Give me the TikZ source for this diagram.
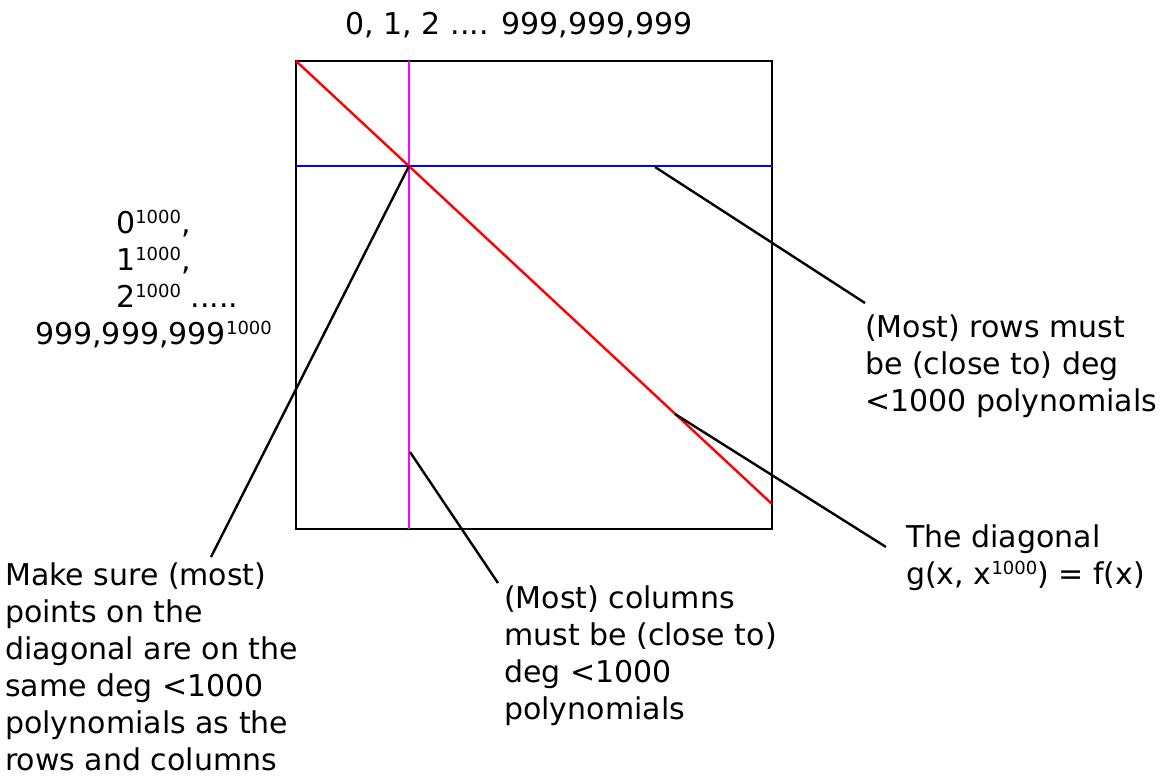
\documentclass[tikz,border=0pt]{standalone}
\usepackage{fontspec}
\setmainfont{DejaVu Sans}
\usetikzlibrary{positioning}
\definecolor{DiagRed}{HTML}{FF0000}
\definecolor{ColMagenta}{HTML}{FF00FF}
\definecolor{RowBlue}{HTML}{0000FF}
\newcommand{\pw}[1]{\raisebox{10pt}{\fontsize{18}{18}\selectfont #1}}

\begin{document}
\begin{tikzpicture}[x=1pt,y=-1pt,
  frame/.style={draw=black,line width=2.4pt},
  rowline/.style={draw=RowBlue,line width=2.4pt},
  colline/.style={draw=ColMagenta,line width=2.4pt},
  diagline/.style={draw=DiagRed,line width=2.4pt},
  leader/.style={draw=black,line width=2.4pt},
  note/.style={font=\fontsize{30}{37}\selectfont,align=left,inner sep=0pt,anchor=base west}
]
\useasboundingbox (0,0) rectangle (1168,776);
% the table
\coordinate (nw) at (296,61);
\coordinate (ne) at (772,61);
\coordinate (se) at (772,529);
\coordinate (sw) at (296,529);
\coordinate (coltop) at (409,61);
\coordinate (colbot) at (409,529);
\coordinate (rowleft) at (296,166);
\coordinate (rowright) at (772,166);
\coordinate (diagend) at (772,504);
\coordinate (cross) at (409,166);
\draw[frame] (nw) rectangle (se);
\draw[rowline] (rowleft) -- (rowright);
\draw[colline] (coltop) -- (colbot);
\draw[diagline] (nw) -- (diagend);
% labels (placed at the baseline of their last line)
\node[note,anchor=base] (toplbl) at (519,35) {0, 1, 2 .... 999,999,999};
\node[note] (leftlbl) at (35,344) {\hspace*{81pt}0\pw{1000},\\\hspace*{81pt}1\pw{1000},\\\hspace*{81pt}2\pw{1000} .....\\999,999,999\pw{1000}};
\node[note] (rowlbl) at (865,411) {(Most) rows must\\be (close to) deg\\<1000 polynomials};
\node[note] (diaglbl) at (906,584) {The diagonal\\g(x, x\pw{1000}) = f(x)};
\node[note] (collbl) at (504,719) {(Most) columns\\must be (close to)\\deg <1000\\polynomials};
\node[note] (surelbl) at (5,770) {Make sure (most)\\points on the\\diagonal are on the\\same deg <1000\\polynomials as the\\rows and columns};
% leaders
\coordinate (rowpt) at (655,167);
\coordinate (colpt) at (410,452);
\coordinate (diagpt) at (675,414);
\coordinate (rowend) at (865,303);
\coordinate (colend) at (498,583);
\coordinate (diagtip) at (886,547);
\coordinate (sureend) at (211,557);
\draw[leader] (cross) -- (sureend);
\draw[leader] (colpt) -- (colend);
\draw[leader] (rowpt) -- (rowend);
\draw[leader] (diagpt) -- (diagtip);
\end{tikzpicture}
\end{document}
